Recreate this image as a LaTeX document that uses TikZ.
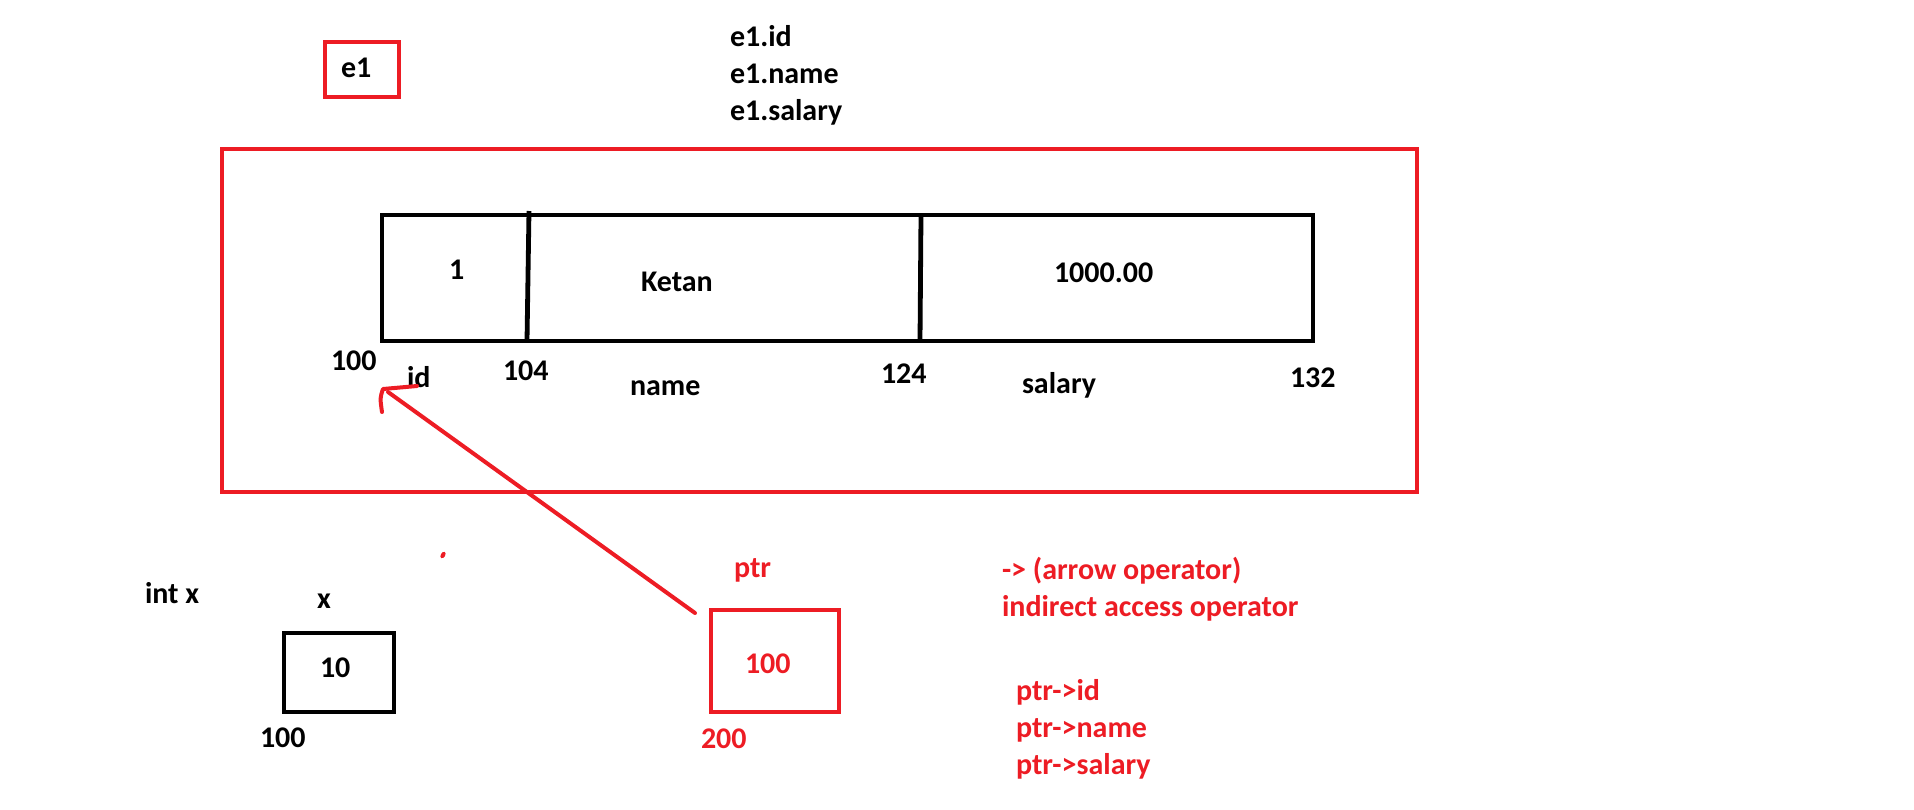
\documentclass[tikz,border=0pt]{standalone}
\usepackage{fontspec}
\setmainfont{Carlito}
\definecolor{pred}{RGB}{237,28,36}
\begin{document}
\begin{tikzpicture}[x=1pt,y=-1pt,
  every node/.style={font=\fontsize{30}{35}\selectfont\bfseries},
  lbl/.style={anchor=base west,inner sep=0pt,outer sep=0pt},
  redlbl/.style={lbl,text=pred},
  redbox/.style={draw=pred,line width=4.5pt,inner sep=0pt},
  blackbox/.style={draw=black,line width=4.8pt,inner sep=0pt},
  ptrline/.style={draw=pred,line width=4pt,line cap=round,line join=round}]
\useasboundingbox (0,0) rectangle (1914,809);
% e1 variable
\node[redbox,minimum width=74pt,minimum height=55pt] (e1box) at (362,69.5) {};
\node[lbl] (e1) at (341,77) {e1};
\node[lbl] (a1) at (730,46) {e1.id};
\node[lbl] (a2) at (730,83) {e1.name};
\node[lbl] (a3) at (730,120) {e1.salary};
% outer struct box
\node[redbox,minimum width=1195pt,minimum height=343pt] (outer) at (819.5,320.5) {};
\node[blackbox,minimum width=931pt,minimum height=126pt] (rec) at (847.5,278) {};
\draw[line width=4.8pt] (529,211) -- (527,341);
\draw[line width=4.8pt] (921,215) -- (920,341);
\node[lbl] (v1) at (449,279) {1};
\node[lbl] (v2) at (641,291) {Ketan};
\node[lbl] (v3) at (1054,282) {1000.00};
\node[lbl] (m100) at (331,370) {100};
\node[lbl] (fid) at (407,387) {id};
\node[lbl] (m104) at (503,380) {104};
\node[lbl] (fname) at (630,395) {name};
\node[lbl] (m124) at (881,383) {124};
\node[lbl] (fsal) at (1022,393) {salary};
\node[lbl] (m132) at (1290,387) {132};
% int x
\node[lbl] (intx) at (145,603) {int x};
\node[lbl] (xl) at (317,608) {x};
\node[blackbox,minimum width=110pt,minimum height=79pt] (xbox) at (339,672.5) {};
\node[lbl] (xv) at (320,677) {10};
\node[lbl] (xa) at (260,747) {100};
% ptr
\node[redlbl] (ptrl) at (734,577) {ptr};
\node[redbox,minimum width=128pt,minimum height=102pt] (pbox) at (775,661) {};
\node[redlbl] (pv) at (745,673) {100};
\node[redlbl] (pa) at (701,748) {200};
% arrow
\coordinate (tip) at (383,389);
\coordinate (start) at (695,613);
\draw[ptrline] (start) -- (388,392);
\draw[ptrline] (417,386) -- (tip) .. controls (380,398) .. (382,412);
% stray dot
\fill[pred,rotate around={60:(443,555)}] (443,555) ellipse (3.5pt and 2.2pt);
% explanation
\node[redlbl] (o1) at (1002,579) {-> (arrow operator)};
\node[redlbl] (o2) at (1002,616) {indirect access operator};
\node[redlbl] (p1) at (1016,700) {ptr->id};
\node[redlbl] (p2) at (1016,737) {ptr->name};
\node[redlbl] (p3) at (1016,774) {ptr->salary};
\end{tikzpicture}
\end{document}
